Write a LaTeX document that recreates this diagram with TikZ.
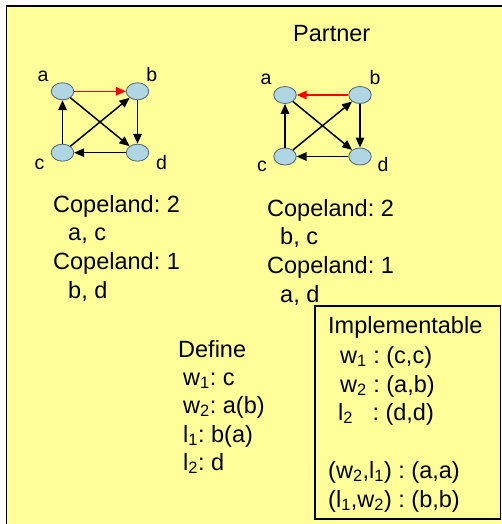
\documentclass[tikz,border=0pt]{standalone}
\usepackage{fontspec}
\setmainfont{Liberation Sans}
\usepackage{tikz}
\usetikzlibrary{arrows.meta,shapes.geometric}
\definecolor{slidebg}{RGB}{255,255,153}
\definecolor{vtxfill}{RGB}{176,214,228}
\definecolor{vtxdraw}{RGB}{80,100,115}
\tikzset{
  vtx/.style    = {ellipse, draw=vtxdraw, fill=vtxfill, line width=0.8pt, minimum width=22.5pt, minimum height=17pt, inner sep=0pt},
  vlab/.style   = {anchor=base, inner sep=0pt, font=\fontsize{19.5}{19.5}\selectfont},
  txt/.style    = {anchor=base west, inner sep=0pt, font=\fontsize{23.5}{27}\selectfont},
  arc/.style    = {-{Triangle[length=10pt,width=8.5pt]}, line width=1.5pt},
  redarc/.style = {arc, draw=red},
}
\frenchspacing

\begin{document}
\begin{tikzpicture}[x=1pt,y=-1pt]
  \useasboundingbox (0,0) rectangle (502,524);
  \fill[white] (0,0) rectangle (502,524);
  \fill[slidebg] (6.5,6) rectangle (502,524);
  \draw[line width=1.5pt] (6.5,524) -- (6.5,6) -- (502,6);

  \node[txt] (partner) at (293,42) {Partner};

  % left tournament
  \node[vtx] (a1) at (62.5,91.3) {};
  \node[vtx] (b1) at (137.5,91.3) {};
  \node[vtx] (c1) at (62.5,152.7) {};
  \node[vtx] (d1) at (137.5,152.7) {};
  \node[vlab] (la1) at (43,81.7) {a};
  \node[vlab] (lb1) at (151.7,81.7) {b};
  \node[vlab] (lc1) at (39.5,169) {c};
  \node[vlab] (ld1) at (161.5,169) {d};
  \draw[redarc] (a1) -- (b1);
  \draw[arc] (b1) -- (d1);
  \draw[arc] (d1) -- (c1);
  \draw[arc] (c1) -- (a1);
  \draw[arc] (a1) -- (d1);
  \draw[arc] (c1) -- (b1);

  % right tournament
  \node[vtx] (a2) at (285,95) {};
  \node[vtx] (b2) at (360,95) {};
  \node[vtx] (c2) at (285,156.5) {};
  \node[vtx] (d2) at (360,156.5) {};
  \node[vlab] (la2) at (266,85) {a};
  \node[vlab] (lb2) at (375,85) {b};
  \node[vlab] (lc2) at (262,171.7) {c};
  \node[vlab] (ld2) at (383,171.7) {d};
  \draw[redarc] (b2) -- (a2);
  \draw[arc] (b2) -- (d2);
  \draw[arc] (d2) -- (c2);
  \draw[arc] (c2) -- (a2);
  \draw[arc] (a2) -- (d2);
  \draw[arc] (c2) -- (b2);

  \node[txt] (cop2l) at (53,212) {Copeland: 2};
  \node[txt] (win1)  at (68,240) {a, c};
  \node[txt] (cop1l) at (53,269) {Copeland: 1};
  \node[txt] (los1)  at (68,298) {b, d};

  \node[txt] (cop2r) at (267,216) {Copeland: 2};
  \node[txt] (win2)  at (280,244) {b, c};
  \node[txt] (cop1r) at (267,273) {Copeland: 1};
  \node[txt] (los2)  at (280,302) {a, d};

  \node[txt] (define) at (178,357) {Define};
  \node[txt] (dw1) at (183,385) {w\textsubscript{1}: c};
  \node[txt] (dw2) at (183,413) {w\textsubscript{2}: a(b)};
  \node[txt] (dl1) at (183,442) {l\textsubscript{1}: b(a)};
  \node[txt] (dl2) at (183,470) {l\textsubscript{2}: d};

  \draw[line width=1.8pt, fill=slidebg] (315,306) rectangle (500.5,519);
  \node[txt] (impl) at (328,333) {Implementable};
  \node[txt] (iw1) at (340,363) {w\textsubscript{1} : (c,c)};
  \node[txt] (iw2) at (340,392) {w\textsubscript{2} : (a,b)};
  \node[txt] (il2) at (338,420) {l\textsubscript{2}\hspace{0.55em} : (d,d)};
  \node[txt] (pwl) at (328,478) {(w\textsubscript{2},l\textsubscript{1}) : (a,a)};
  \node[txt] (plw) at (328,507) {(l\textsubscript{1},w\textsubscript{2}) : (b,b)};
\end{tikzpicture}
\end{document}
